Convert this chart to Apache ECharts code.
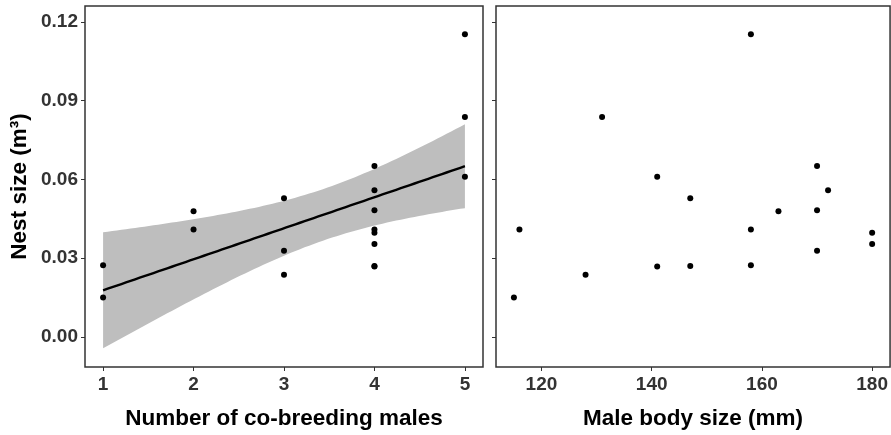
<!DOCTYPE html>
<html>
<head>
<meta charset="utf-8">
<script src="https://cdn.jsdelivr.net/npm/echarts@6/dist/echarts.min.js"></script>
<style>
  html, body { margin: 0; padding: 0; background: #fff; }
  #chart { width: 891px; height: 435px; }
</style>
</head>
<body>
<div id="chart"></div>
<script>
// ---- data ----
const males    = [1, 1, 2, 2, 3, 3, 3, 4, 4, 4, 4, 4, 4, 4, 4, 5, 5, 5];
const nestSize = [0.0273, 0.0150, 0.0479, 0.0409, 0.0528, 0.0328, 0.0237, 0.0651, 0.0559, 0.0482, 0.0409, 0.0397, 0.0354, 0.0268, 0.0270, 0.1153, 0.0838, 0.0610];
const bodySize = [158, 115, 163, 116, 147, 170, 128, 170, 172, 170, 158, 180, 180, 141, 147, 158, 131, 141];

const yTicks      = [0, 0.03, 0.06, 0.09, 0.12];
const malesTicks  = [1, 2, 3, 4, 5];
const bodyTicks   = [120, 140, 160, 180];

const yTitle      = 'Nest size (m³)';
const xTitleLeft  = 'Number of co-breeding males';
const xTitleRight = 'Male body size (mm)';

// ---- linear model fit (lm) with 95% confidence band, as geom_smooth(method = "lm") ----
function lmFit(xs, ys, nOut) {
  const n = xs.length;
  const mx = xs.reduce((a, b) => a + b, 0) / n;
  const my = ys.reduce((a, b) => a + b, 0) / n;
  let sxx = 0, sxy = 0;
  for (let i = 0; i < n; i++) { sxx += (xs[i] - mx) ** 2; sxy += (xs[i] - mx) * (ys[i] - my); }
  const b = sxy / sxx, a = my - b * mx;
  let sse = 0;
  for (let i = 0; i < n; i++) sse += (ys[i] - a - b * xs[i]) ** 2;
  const s = Math.sqrt(sse / (n - 2));
  const t = 2.119905; // qt(0.975, 16)
  const xmin = Math.min(...xs), xmax = Math.max(...xs);
  const line = [], upper = [], lower = [];
  for (let k = 0; k < nOut; k++) {
    const x = xmin + (xmax - xmin) * k / (nOut - 1);
    const f = a + b * x;
    const se = s * Math.sqrt(1 / n + (x - mx) ** 2 / sxx);
    line.push([x, f]); upper.push([x, f + t * se]); lower.push([x, f - t * se]);
  }
  return { line, upper, lower };
}
const fit = lmFit(males, nestSize, 80);

const FONT = "'Liberation Sans', Arial, sans-serif";
const Y_MIN = -0.0115, Y_MAX = 0.1261;

const chart = echarts.init(document.getElementById('chart'), null, { renderer: 'canvas' });

const gridBase = { show: true, borderColor: '#333', borderWidth: 1.5, backgroundColor: '#fff', top: 6, height: 362 };

function yAxisDef(gridIndex, showLabels) {
  return {
    type: 'value', gridIndex, min: Y_MIN, max: Y_MAX,
    splitLine: { show: false },
    axisLine: { show: false, onZero: false },
    axisTick: { show: true, length: 4, inside: false, customValues: yTicks, lineStyle: { color: '#333', width: 1 } },
    axisLabel: {
      show: showLabels, customValues: yTicks, margin: 7,
      formatter: v => v.toFixed(2),
      color: '#333', fontFamily: FONT, fontWeight: 'bold', fontSize: 19
    },
    name: showLabels ? yTitle : '', nameLocation: 'middle', nameGap: 54,
    nameTextStyle: { color: '#000', fontFamily: FONT, fontWeight: 'bold', fontSize: 22.5 }
  };
}
function xAxisDef(gridIndex, min, max, ticks, title) {
  return {
    type: 'value', gridIndex, min, max,
    splitLine: { show: false },
    axisLine: { show: false, onZero: false },
    axisTick: { show: true, length: 4, customValues: ticks, lineStyle: { color: '#333', width: 1 } },
    axisLabel: {
      customValues: ticks, margin: 8,
      color: '#333', fontFamily: FONT, fontWeight: 'bold', fontSize: 19
    },
    name: title, nameLocation: 'middle', nameGap: 40,
    nameTextStyle: { color: '#000', fontFamily: FONT, fontWeight: 'bold', fontSize: 22.5 }
  };
}

const option = {
  animation: false,
  backgroundColor: '#fff',
  grid: [
    Object.assign({}, gridBase, { left: 85, width: 398 }),
    Object.assign({}, gridBase, { left: 496, width: 397 })
  ],
  xAxis: [
    xAxisDef(0, 0.8, 5.2, malesTicks, xTitleLeft),
    xAxisDef(1, 111.75, 183.25, bodyTicks, xTitleRight)
  ],
  yAxis: [ yAxisDef(0, true), yAxisDef(1, false) ],
  series: [
    {
      type: 'custom', xAxisIndex: 0, yAxisIndex: 0, silent: true,
      data: [[fit.line[0][0], fit.line[0][1]]],
      renderItem: (params, api) => {
        const pts = fit.upper.map(p => api.coord(p))
          .concat(fit.lower.slice().reverse().map(p => api.coord(p)));
        return { type: 'polygon', shape: { points: pts }, style: { fill: '#BEBEBE' } };
      },
      z: 1
    },
    {
      type: 'line', xAxisIndex: 0, yAxisIndex: 0, silent: true,
      data: fit.line, showSymbol: false, symbol: 'none',
      lineStyle: { color: '#000', width: 2.4 }, z: 2
    },
    {
      type: 'scatter', xAxisIndex: 0, yAxisIndex: 0,
      data: males.map((m, i) => [m, nestSize[i]]),
      symbol: 'circle', symbolSize: 6, itemStyle: { color: '#000', opacity: 1 }, z: 3
    },
    {
      type: 'scatter', xAxisIndex: 1, yAxisIndex: 1,
      data: bodySize.map((b, i) => [b, nestSize[i]]),
      symbol: 'circle', symbolSize: 6, itemStyle: { color: '#000', opacity: 1 }, z: 3
    }
  ]
};
chart.setOption(option);
</script>
</body>
</html>
